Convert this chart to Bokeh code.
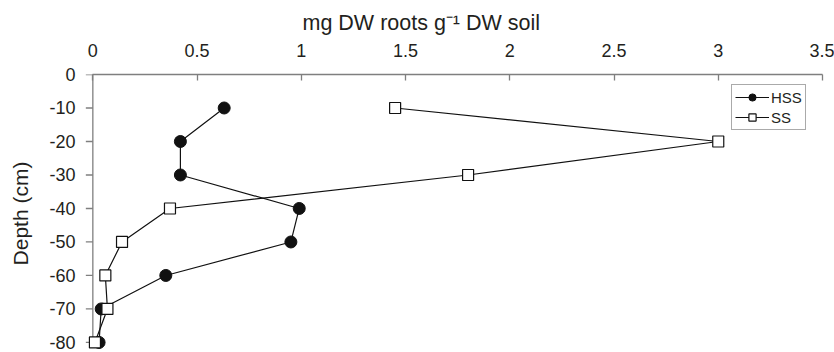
import math
from bokeh.plotting import figure
from bokeh.models import Range1d, Legend, LegendItem, FixedTicker, NumeralTickFormatter
from bokeh.embed import file_html
from bokeh.resources import INLINE

# Data
depth = [-10, -20, -30, -40, -50, -60, -70, -80]
hss = [0.63, 0.42, 0.42, 0.99, 0.95, 0.35, 0.04, 0.03]
ss = [1.45, 3.00, 1.80, 0.37, 0.14, 0.06, 0.07, 0.01]
x_ticks = [0, 0.5, 1, 1.5, 2, 2.5, 3, 3.5]
y_ticks = [0, -10, -20, -30, -40, -50, -60, -70, -80]
x_title = "mg DW roots g\u207b\u00b9 DW soil"
y_title = "Depth (cm)"

FONT = "Liberation Sans"
AXC = "#7f7f7f"
TXT = "#231f20"

p = figure(width=834, height=352, x_axis_location="above",
           x_range=Range1d(-0.04, 3.5), y_range=Range1d(-83, 0),
           output_backend="svg", toolbar_location=None,
           min_border_left=84, min_border_right=12,
           min_border_top=74, min_border_bottom=0)
p.grid.visible = False
p.outline_line_color = None
p.background_fill_color = "white"

p.title.text = x_title
p.title.text_font = FONT
p.title.text_font_size = "21.5px"
p.title.text_font_style = "normal"
p.title.text_color = TXT
p.title.align = "left"
p.title.offset = 218
p.title.standoff = 12

xa = p.xaxis[0]
xa.ticker = FixedTicker(ticks=x_ticks)
xa.formatter = NumeralTickFormatter(format="0.[0]")
xa.bounds = (x_ticks[0], x_ticks[-1])
xa.major_tick_in = 6
xa.major_tick_out = 0
xa.minor_tick_in = 0
xa.minor_tick_out = 0
xa.major_label_standoff = 18
xa.major_label_text_font = FONT
xa.major_label_text_font_size = "18px"
xa.major_label_text_color = TXT
xa.axis_line_color = AXC
xa.major_tick_line_color = AXC
xa.axis_line_width = 1.3
xa.major_tick_line_width = 1.3

# left axis: labels from the real axis, line + ticks drawn at x = 0
ya = p.yaxis[0]
ya.ticker = FixedTicker(ticks=y_ticks)
ya.formatter = NumeralTickFormatter(format="0")
ya.major_tick_in = 0
ya.major_tick_out = 0
ya.minor_tick_in = 0
ya.minor_tick_out = 0
ya.axis_line_color = None
ya.major_tick_line_color = None
ya.major_label_standoff = 9
ya.major_label_text_font = FONT
ya.major_label_text_font_size = "18px"
ya.major_label_text_color = TXT
ya.axis_label = y_title
ya.axis_label_text_font = FONT
ya.axis_label_text_font_size = "21px"
ya.axis_label_text_font_style = "normal"
ya.axis_label_text_color = TXT
ya.axis_label_standoff = 14

p.segment(x0=[x_ticks[0]], y0=[y_ticks[-1]], x1=[x_ticks[0]], y1=[y_ticks[0]],
          line_color=AXC, line_width=1.3)
p.ray(x=[x_ticks[0]] * len(y_ticks), y=y_ticks, length=7, length_units="screen",
      angle=math.pi, line_color=AXC, line_width=1.3)

l1 = p.line(hss, depth, line_color="#111111", line_width=1.2)
s1 = p.scatter(hss, depth, marker="circle", size=12, fill_color="#111111",
               line_color="#111111")
l2 = p.line(ss, depth, line_color="#111111", line_width=1.2)
s2 = p.scatter(ss, depth, marker="square", size=11, fill_color="white",
               line_color="#111111", line_width=1.2)

legend = Legend(items=[LegendItem(label="HSS", renderers=[l1, s1]),
                       LegendItem(label="SS", renderers=[l2, s2])],
                location=(647, 222))
legend.label_text_font = FONT
legend.label_text_font_size = "15px"
legend.label_text_color = TXT
legend.glyph_width = 34
legend.glyph_height = 18
legend.label_height = 18
legend.label_standoff = 2
legend.spacing = 2
legend.padding = 3
legend.margin = 0
legend.border_line_color = "#555555"
legend.border_line_width = 1
legend.background_fill_alpha = 1
p.add_layout(legend)

open("out.html", "w").write(file_html(p, INLINE))
